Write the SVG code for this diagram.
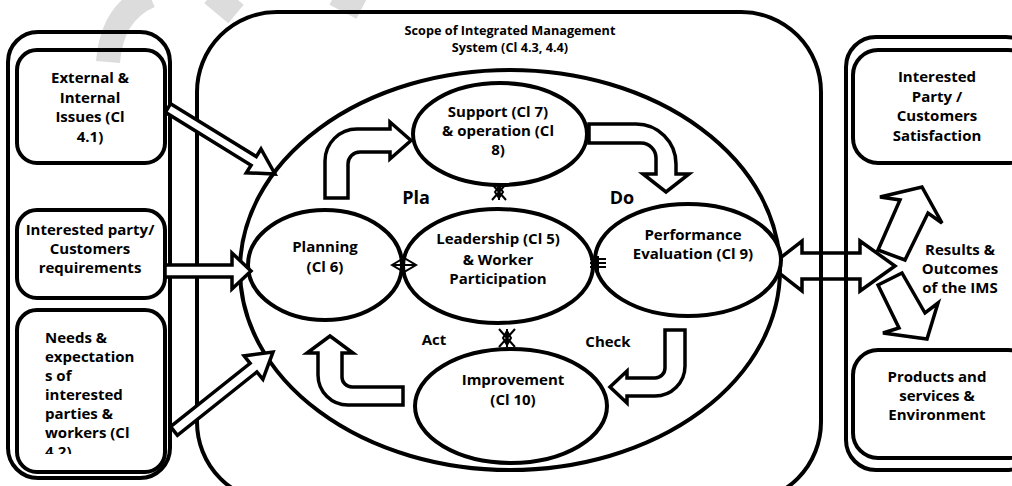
<svg xmlns="http://www.w3.org/2000/svg" width="1012" height="486" viewBox="0 0 1012 486">
  <style>
    .box { fill: none; stroke: #000; stroke-width: 4; }
    .ell { fill: #fff; stroke: #000; stroke-width: 4; }
    .arrow { fill: #fff; stroke: #000; stroke-width: 3.5; stroke-linejoin: miter; }
    .mark { fill: none; stroke: #000; stroke-width: 2; }
    text { font-family: "Open Sans", "Liberation Sans", sans-serif; font-weight: bold; fill: #000; }
    .t { font-size: 15px; text-anchor: middle; }
    .tl { font-size: 15px; }
    .title { font-size: 12.7px; text-anchor: middle; }
    .big { font-size: 18px; text-anchor: middle; }
    .mid { font-size: 15px; text-anchor: middle; }
  </style>
  <defs>
    <clipPath id="clipNeeds">
      <rect x="19" y="312" width="144" height="142"/>
    </clipPath>
  </defs>
  <rect width="1012" height="486" fill="#fff"/>

  <!-- faint background mark -->
  <g id="mark-bg" fill="none" stroke="#dcdcdc" stroke-width="24">
    <path d="M108 62 Q112 12 150 -4"/>
    <path d="M212 -6 L236 14"/>
    <path d="M335 -6 L362 8"/>
  </g>

  <!-- double arrow under the frame lines -->
  <g id="connector-results">
    <path class="arrow" d="M770 266 L802 241 L802 253 L860 253 L860 241 L895 266 L860 291 L860 279 L802 279 L802 291 Z"/>
  </g>

  <!-- frames -->
  <g id="scope">
    <rect class="box" x="197" y="12" width="624" height="490" rx="80"/>
    <text class="title" x="510" y="35">Scope of Integrated Management</text>
    <text class="title" x="510" y="52">System (Cl 4.3, 4.4)</text>
  </g>
  <g id="inputs-frame">
    <rect class="box" x="8" y="32" width="162" height="446" rx="30"/>
  </g>
  <g id="outputs-frame">
    <rect class="box" x="846" y="37" width="190" height="433" rx="30"/>
  </g>

  <!-- input boxes -->
  <g id="external-issues">
    <rect class="box" x="17" y="50" width="148" height="113" rx="20"/>
    <text class="t" x="90" y="83">External &amp;</text>
    <text class="t" x="90" y="103">Internal</text>
    <text class="t" x="90" y="122">Issues (Cl</text>
    <text class="t" x="90" y="142">4.1)</text>
  </g>
  <g id="customer-requirements">
    <rect class="box" x="17" y="210" width="148" height="88" rx="20"/>
    <text class="t" x="90" y="235">Interested party/</text>
    <text class="t" x="90" y="254">Customers</text>
    <text class="t" x="90" y="273">requirements</text>
  </g>
  <g id="needs-expectations">
    <rect class="box" x="17" y="310" width="148" height="162" rx="20"/>
    <g clip-path="url(#clipNeeds)">
      <text class="tl" x="45" y="343">Needs &amp;</text>
      <text class="tl" x="45" y="362">expectation</text>
      <text class="tl" x="45" y="381">s of</text>
      <text class="tl" x="45" y="400">interested</text>
      <text class="tl" x="45" y="419">parties &amp;</text>
      <text class="tl" x="45" y="438">workers (Cl</text>
      <text class="tl" x="45" y="457">4.2)</text>
    </g>
  </g>

  <!-- output boxes -->
  <g id="satisfaction">
    <rect class="box" x="853" y="50" width="180" height="113" rx="25"/>
    <text class="t" x="937" y="82">Interested</text>
    <text class="t" x="937" y="102">Party /</text>
    <text class="t" x="937" y="121">Customers</text>
    <text class="t" x="937" y="141">Satisfaction</text>
  </g>
  <g id="results">
    <text class="t" x="960" y="255">Results &amp;</text>
    <text class="t" x="960" y="274">Outcomes</text>
    <text class="t" x="960" y="293">of the IMS</text>
  </g>
  <g id="products">
    <rect class="box" x="853" y="350" width="180" height="108" rx="25"/>
    <text class="t" x="937" y="382">Products and</text>
    <text class="t" x="937" y="401">services &amp;</text>
    <text class="t" x="937" y="420">Environment</text>
  </g>

  <!-- PDCA cycle -->
  <g id="cycle">
    <ellipse class="ell" cx="510" cy="270" rx="270" ry="200"/>
  </g>
  <g id="support">
    <ellipse class="ell" cx="500" cy="134" rx="87" ry="51"/>
    <text class="t" x="498" y="117">Support (Cl 7)</text>
    <text class="t" x="498" y="136">&amp; operation (Cl</text>
    <text class="t" x="498" y="155">8)</text>
  </g>
  <g id="planning">
    <ellipse class="ell" cx="325" cy="265" rx="77" ry="55"/>
    <text class="t" x="325" y="252">Planning</text>
    <text class="t" x="325" y="272">(Cl 6)</text>
  </g>
  <g id="performance">
    <ellipse class="ell" cx="688" cy="260" rx="93" ry="56"/>
    <text class="t" x="693" y="240">Performance</text>
    <text class="t" x="693" y="259">Evaluation (Cl 9)</text>
  </g>
  <g id="leadership">
    <ellipse class="ell" cx="498" cy="266" rx="95" ry="57"/>
    <text class="t" x="498" y="244">Leadership (Cl 5)</text>
    <text class="t" x="498" y="265">&amp; Worker</text>
    <text class="t" x="498" y="284">Participation</text>
  </g>
  <g id="improvement">
    <ellipse class="ell" cx="511" cy="406" rx="96" ry="57"/>
    <text class="t" x="513" y="385">Improvement</text>
    <text class="t" x="513" y="405">(Cl 10)</text>
  </g>

  <!-- stage labels -->
  <g id="labels">
    <text class="big" x="416" y="204">Pla</text>
    <text class="big" x="622" y="204">Do</text>
    <text class="mid" x="434" y="345">Act</text>
    <text class="mid" x="608" y="347">Check</text>
  </g>

  <!-- connectors -->
  <g id="connectors">
    <path class="arrow" d="M170.6 103.7 L256.3 156.6 L261 149 L275 174 L246.3 172.8 L251.1 165.2 L165.4 112.3 Z"/>
    <path class="arrow" d="M165 265 L232 265 L232 253 L251 271 L232 289 L232 277 L165 277 Z"/>
    <path class="arrow" d="M170.6 426.7 L250.1 363.3 L244.1 355.9 L273 352 L262.9 379.3 L256.9 371.9 L177.4 435.3 Z"/>
    <path class="arrow" d="M325 198 L325 161 A32 32 0 0 1 357 129 L390 129 L390 122 L411 140.5 L390 159 L390 152 L360 152 A12 12 0 0 0 348 164 L348 198 Z"/>
    <path class="arrow" d="M589 124 L636 124 A40 40 0 0 1 676 164 L676 174 L689 174 L666 192 L643 174 L656 174 L656 158 A15 15 0 0 0 641 143 L589 143 Z"/>
    <path class="arrow" d="M665 330 L685 330 L685 366 A30 30 0 0 1 655 396 L627 396 L627 403 L610 387 L627 371 L627 378 L655 378 A10 10 0 0 0 665 368 Z"/>
    <path class="arrow" d="M403 387 L403 405 L348 405 A30 30 0 0 1 318 375 L318 353 L307 353 L330 336 L353 353 L342 353 L342 377 A10 10 0 0 0 352 387 Z"/>
    <path class="arrow" d="M878 250 L900 200 L880 197 L922 187 L942 223 L928 213 L905 260 Z"/>
    <path class="arrow" d="M878 285 L899 328 L883 333 L927 339 L938 303 L925 313 L902 273 Z"/>
    <!-- small joints between the cycle elements -->
    <path class="mark" d="M492 184 L506 200 M506 184 L492 200 M499 184 L499 200 M495 192 L499 186 L503 192 L499 198 Z"/>
    <path class="mark" d="M499 329 L515 347 M515 329 L499 347 M507 329 L507 347 M503 338 L507 331 L511 338 L507 345 Z"/>
    <path class="mark" d="M392 265 L404 258 L416 265 L404 272 Z M392 265 L416 265 M404 256 L404 274"/>
    <path class="mark" d="M590 259 L606 259 M590 263 L606 263 M590 267 L606 267 M598 256 L598 272"/>
  </g>
</svg>
